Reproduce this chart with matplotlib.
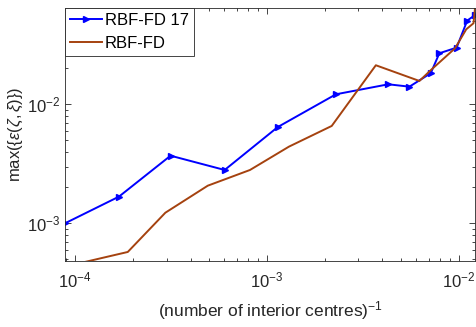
import matplotlib
matplotlib.use("Agg")
import matplotlib.pyplot as plt
import numpy as np

# values (log10 scale)
rbf17_logx = [-4.052, -3.771, -3.502, -3.220, -2.943, -2.640, -2.367,
              -2.257, -2.146, -2.101, -2.011, -1.956, -1.915]
rbf17_logy = [-3.000, -2.776, -2.432, -2.552, -2.191, -1.916, -1.832,
              -1.852, -1.739, -1.571, -1.524, -1.297, -1.250]

rbf_logx = [-4.052, -3.725, -3.529, -3.308, -3.088, -2.885, -2.662,
            -2.432, -2.205, -2.149, -2.019, -1.961, -1.923, -1.915]
rbf_logy = [-3.364, -3.241, -2.911, -2.684, -2.552, -2.356, -2.182,
            -1.672, -1.804, -1.718, -1.529, -1.370, -1.319, -1.190]

series_labels = ['RBF-FD 17', 'RBF-FD']

plt.rcParams['font.family'] = ['Liberation Sans', 'DejaVu Sans']
plt.rcParams['mathtext.fontset'] = 'custom'
plt.rcParams['mathtext.rm'] = 'Liberation Sans'
plt.rcParams['mathtext.it'] = 'Liberation Sans:italic'

fig = plt.figure(figsize=(4.76, 3.27), dpi=100)
ax = fig.add_axes([0.1366, 0.2018, 0.8614, 0.7737])

ax.plot(10 ** np.array(rbf17_logx), 10 ** np.array(rbf17_logy), color='#0000FF',
        lw=1.4, marker='>', ms=5, label=series_labels[0])
ax.plot(10 ** np.array(rbf_logx), 10 ** np.array(rbf_logy), color='#A5420F',
        lw=1.4, label=series_labels[1])

ax.set_xscale('log')
ax.set_yscale('log')
ax.set_xlim(10 ** -4.052, 10 ** -1.915)
ax.set_ylim(10 ** -3.317, 10 ** -1.191)

ax.tick_params(which='both', direction='in', top=True, right=True,
               labelsize=12, colors='#262626', width=0.6)
ax.tick_params(which='major', length=4)
ax.tick_params(which='minor', length=2.2)
ax.tick_params(axis='x', which='major', pad=7)
for s in ax.spines.values():
    s.set_linewidth(0.6)
    s.set_color('#262626')

ax.set_xlabel(r'(number of interior centres)$^{-1}$', fontsize=12.5, color='#262626', labelpad=6)
ax.set_ylabel(r'max$(\{\epsilon(\zeta,\xi)\})$', fontsize=12, color='#262626', labelpad=1)

leg = ax.legend(loc='upper left', fontsize=12, handlelength=1.9, handletextpad=0.2,
                borderpad=0.3, labelspacing=0.45, borderaxespad=0.0,
                fancybox=False, framealpha=1)
leg.get_frame().set_edgecolor('#262626')
leg.get_frame().set_linewidth(0.6)

fig.savefig('out.png', dpi=100)
